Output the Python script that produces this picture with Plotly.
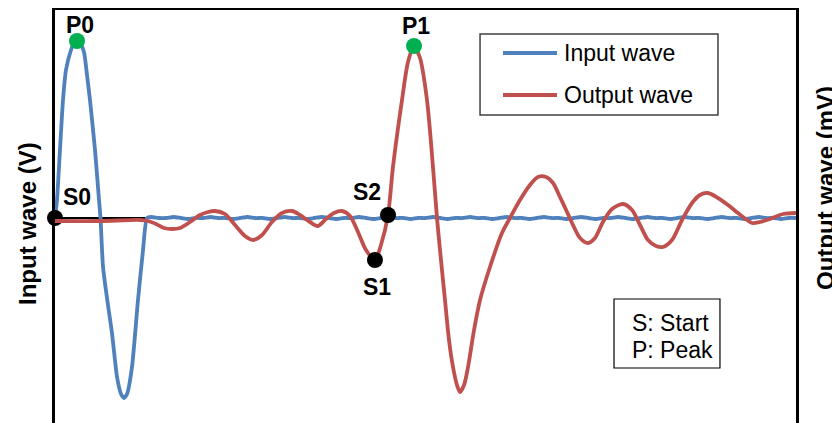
import plotly.graph_objects as go

# ---------------- data (time in µs, input in V, output in mV) ----------------
input_t = [0.0, 0.27, 0.67, 1.08, 1.48, 2.16, 2.56, 2.97, 3.37, 3.91, 4.32, 4.72, 5.40, 5.94, 6.14,
           6.48, 7.15, 7.69, 8.37, 8.91, 9.31, 9.72, 10.39, 11.20, 11.88, 12.42,
           13, 14, 15, 16, 17, 18, 19, 20, 21, 22, 23, 24, 25, 26, 27, 28, 29, 30, 31, 32, 33, 34, 35,
           36, 37, 38, 39, 40, 41, 42, 43, 44, 45, 46, 47, 48, 49, 50, 51, 52, 53, 54, 55, 56, 57, 58,
           59, 60, 61, 62, 63, 64, 65, 66, 67, 68, 69, 70, 71, 72, 73, 74, 75, 76, 77, 78, 79, 80, 81,
           82, 83, 84, 85, 86, 87, 88, 89, 90, 91, 92, 93, 94, 95, 96, 97, 98, 99, 100]
input_v = [0.0, 0.18, 0.68, 1.18, 1.48, 1.68, 1.75, 1.77, 1.75, 1.66, 1.43, 1.18, 0.68, 0.18, 0.0,
           -0.49, -0.87, -1.15, -1.59, -1.76, -1.80, -1.76, -1.49, -0.82, -0.32, 0.0,
           0.01, 0.00, 0.00, 0.01, 0.00, -0.01, 0.00, 0.00, 0.01, 0.00, 0.00, -0.01, 0.00, 0.01, 0.00,
           0.00, -0.01, 0.00, 0.01, 0.00, 0.00, -0.01, 0.00, 0.01, 0.00, -0.01, 0.00, 0.00, 0.01, 0.00,
           -0.01, 0.00, 0.01, 0.00, 0.00, -0.01, 0.00, 0.00, 0.01, 0.00, -0.01, 0.00, 0.00, 0.01, 0.00,
           0.00, -0.01, 0.00, 0.01, 0.00, 0.00, -0.01, 0.00, 0.01, 0.00, 0.00, -0.01, 0.00, 0.01, 0.00,
           -0.01, 0.00, 0.00, 0.01, 0.00, -0.01, 0.00, 0.01, 0.00, 0.00, -0.01, 0.00, 0.01, 0.00, 0.00,
           -0.01, 0.00, 0.01, 0.00, 0.00, -0.01, 0.00, 0.01, 0.00, 0.00, -0.01, 0.00, 0.00]

output_t = [0.0, 6.07, 11.47, 12.55, 13.63, 14.71, 15.79, 16.87, 18.22, 19.57, 20.65, 21.59, 22.94,
            24.29, 25.64, 26.72, 27.94, 29.28, 30.63, 31.98, 33.06, 34.41, 35.49, 36.57, 37.65, 38.73,
            39.81, 40.89, 41.97, 43.18, 43.99, 44.94, 45.61, 46.83, 47.64, 48.45, 49.26, 50.20, 51.01,
            51.55, 52.09, 52.63, 53.17, 53.71, 54.25, 54.66, 55.20, 55.74, 56.55, 57.36, 58.70, 60.32,
            61.40, 62.75, 64.10, 65.18, 66.26, 67.21, 68.15, 69.10, 69.91, 70.85, 71.93, 72.87, 73.95,
            75.17, 76.65, 77.87, 78.95, 80.03, 81.11, 82.05, 83.27, 84.62, 85.97, 87.04, 88.12, 89.47,
            90.82, 92.17, 93.39, 94.06, 95.14, 96.49, 98.25, 100.0]
output_mv = [-0.3, -0.3, -0.2, -0.3, -0.6, -1.0, -1.1, -1.0, -0.4, 0.3, 0.6, 0.7, 0.4,
             -0.7, -1.8, -2.2, -1.7, -0.4, 0.5, 0.7, 0.3, -0.4, -0.8, -0.1, 0.5, 0.7,
             0.2, -1.4, -3.2, -4.2, -2.7, 0.3, 5.1, 11.8, 15.6, 17.2, 16.0, 11.8, 5.1,
             0.0, -4.2, -8.2, -12.2, -14.9, -16.7, -17.4, -16.7, -14.9, -11.2, -8.2, -4.9, -1.5,
             0.0, 1.8, 3.3, 4.1, 4.1, 3.5, 2.1, 0.6, -0.7, -2.0, -2.5, -2.0, -0.4,
             0.9, 1.4, 0.8, -0.7, -2.2, -2.8, -2.9, -2.2, -0.2, 1.5, 2.3, 2.5, 2.0,
             1.3, 0.5, -0.2, -0.5, -0.4, -0.1, 0.4, 0.5]

# key points
start_labels_in = ["S0"]
start_t_in = [0.0]
start_v_in = [0.0]
peak_labels_in = ["P0"]
peak_t_in = [2.97]
peak_v_in = [1.77]
start_labels_out = ["S1", "S2"]
start_t_out = [43.18, 44.94]
start_mv_out = [-4.2, 0.3]
peak_labels_out = ["P1"]
peak_t_out = [48.45]
peak_mv_out = [17.2]

series_names = ["Input wave", "Output wave"]
axis_titles = ["Input wave (V)", "Output wave (mV)"]
note_lines = ["S: Start", "P: Peak"]

# ---------------- styling ----------------
BLUE = "#4F81BD"
RED = "#C0504D"
GREEN = "#00B050"
FONT = "Liberation Sans, Arial, sans-serif"

fig = go.Figure()
fig.add_trace(go.Scatter(x=input_t, y=input_v, mode="lines", name=series_names[0],
                         line=dict(color=BLUE, width=3.8, shape="spline", smoothing=0.6),
                         yaxis="y", showlegend=False))
fig.add_trace(go.Scatter(x=output_t, y=output_mv, mode="lines", name=series_names[1],
                         line=dict(color=RED, width=3.8, shape="spline", smoothing=0.8),
                         yaxis="y2", showlegend=False))
fig.add_trace(go.Scatter(x=start_t_in, y=start_v_in, mode="markers", yaxis="y",
                         marker=dict(color="black", size=16), showlegend=False, cliponaxis=False))
fig.add_trace(go.Scatter(x=peak_t_in, y=peak_v_in, mode="markers", yaxis="y",
                         marker=dict(color=GREEN, size=16), showlegend=False, cliponaxis=False))
fig.add_trace(go.Scatter(x=start_t_out, y=start_mv_out, mode="markers", yaxis="y2",
                         marker=dict(color="black", size=16), showlegend=False, cliponaxis=False))
fig.add_trace(go.Scatter(x=peak_t_out, y=peak_mv_out, mode="markers", yaxis="y2",
                         marker=dict(color=GREEN, size=16), showlegend=False, cliponaxis=False))

ann = []
lab_font = dict(family=FONT, size=23, color="black", weight="bold")
# point labels (offset from their markers)
ann.append(dict(x=start_t_in[0], y=start_v_in[0], xref="x", yref="y", text=start_labels_in[0],
                showarrow=False, font=lab_font, xshift=22, yshift=21))
ann.append(dict(x=peak_t_in[0], y=peak_v_in[0], xref="x", yref="y", text=peak_labels_in[0],
                showarrow=False, font=lab_font, xshift=3, yshift=16))
ann.append(dict(x=start_t_out[0], y=start_mv_out[0], xref="x", yref="y2", text=start_labels_out[0],
                showarrow=False, font=lab_font, xshift=2, yshift=-27))
ann.append(dict(x=start_t_out[1], y=start_mv_out[1], xref="x", yref="y2", text=start_labels_out[1],
                showarrow=False, font=lab_font, xshift=-21, yshift=23))
ann.append(dict(x=peak_t_out[0], y=peak_mv_out[0], xref="x", yref="y2", text=peak_labels_out[0],
                showarrow=False, font=lab_font, xshift=2, yshift=20))

# axis titles
title_font = dict(family=FONT, size=24, color="black", weight="bold")
ann.append(dict(x=-0.0364, y=0.482, xref="paper", yref="paper", text=axis_titles[0], textangle=-90,
                showarrow=False, font=title_font, xanchor="center", yanchor="middle"))
ann.append(dict(x=1.0391, y=0.569, xref="paper", yref="paper", text=axis_titles[1], textangle=-90,
                showarrow=False, font=title_font, xanchor="center", yanchor="middle"))

# manual legend
leg_font = dict(family=FONT, size=23, color="black")
ann.append(dict(x=0.6842, y=0.8959, xref="paper", yref="paper", text=series_names[0],
                showarrow=False, font=leg_font, xanchor="left", yanchor="middle"))
ann.append(dict(x=0.6842, y=0.7942, xref="paper", yref="paper", text=series_names[1],
                showarrow=False, font=leg_font, xanchor="left", yanchor="middle"))
# note box text
ann.append(dict(x=0.7760, y=0.2421, xref="paper", yref="paper", text=note_lines[0],
                showarrow=False, font=leg_font, xanchor="left", yanchor="middle", align="left"))
ann.append(dict(x=0.7760, y=0.1768, xref="paper", yref="paper", text=note_lines[1],
                showarrow=False, font=leg_font, xanchor="left", yanchor="middle", align="left"))

shapes = [
    dict(type="rect", xref="paper", yref="paper", x0=0.5736, x1=0.8947, y0=0.7458, y1=0.9419,
         line=dict(color="#404040", width=1.5), fillcolor="rgba(0,0,0,0)"),
    dict(type="line", xref="paper", yref="paper", x0=0.6046, x1=0.6775, y0=0.8959, y1=0.8959,
         line=dict(color=BLUE, width=3.8)),
    dict(type="line", xref="paper", yref="paper", x0=0.6046, x1=0.6775, y0=0.7942, y1=0.7942,
         line=dict(color=RED, width=3.8)),
    dict(type="rect", xref="paper", yref="paper", x0=0.7544, x1=0.8974, y0=0.1332, y1=0.3002,
         line=dict(color="black", width=1.2), fillcolor="rgba(0,0,0,0)"),
]

# the page body adds an 8px offset, so the figure is sized to fit the window
fig.update_layout(
    width=832, height=415,
    margin=dict(l=47, r=44, t=2, b=0),
    paper_bgcolor="white", plot_bgcolor="white",
    showlegend=False,
    annotations=ann, shapes=shapes,
    xaxis=dict(range=[0, 100], side="top", showline=True, linecolor="black", linewidth=2.5,
               showgrid=False, zeroline=False, showticklabels=False, ticks=""),
    yaxis=dict(range=[-2.05, 2.08], showline=True, linecolor="black", linewidth=3,
               showgrid=False, zeroline=True, zerolinecolor="black", zerolinewidth=1.5,
               showticklabels=False, ticks=""),
    yaxis2=dict(range=[-20.5, 20.8], overlaying="y", side="right", showline=True,
                linecolor="black", linewidth=3, showgrid=False, zeroline=False,
                showticklabels=False, ticks=""),
)

fig.write_html("out.html")
